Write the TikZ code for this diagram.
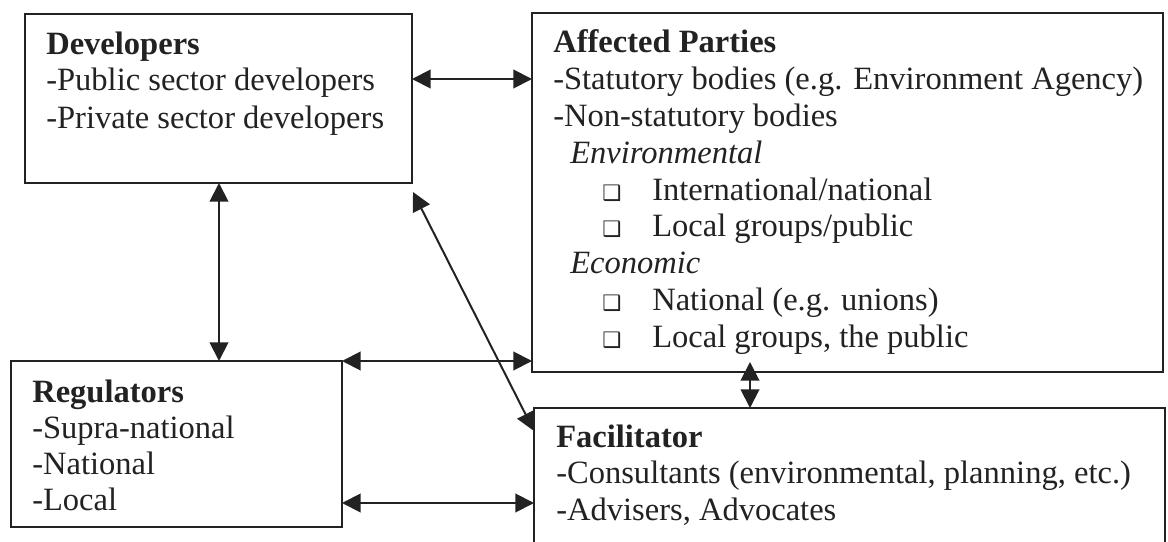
\documentclass[tikz,border=0pt]{standalone}
\usepackage{fontspec}
\setmainfont{Liberation Serif}
\newfontfamily\symfont{DejaVu Sans}
\usetikzlibrary{arrows.meta,fit}
\definecolor{ink}{HTML}{222222}
\begin{document}
\begin{tikzpicture}[x=0.75pt,y=-0.75pt,
  box/.style={draw=ink, line width=1.8pt, inner sep=0pt, outer sep=0pt, rectangle},
  txt/.style={anchor=base west, inner sep=0pt, text=ink, font=\fontsize{24.4}{30}\selectfont},
  bul/.style={anchor=base west, inner sep=0pt, text=ink, font=\symfont\fontsize{16}{18}\selectfont},
  link/.style={draw=ink, line width=1.5pt, {Triangle[length=14pt,width=14pt]}-{Triangle[length=14pt,width=14pt]}}
]
\useasboundingbox (0,0) rectangle (1168,542);
\clip (0,0) rectangle (1168,542);

% the four stakeholder boxes
\node[box, fit={(25,14) (412,183)}] (dev) {};
\node[box, fit={(532,13) (1163,372)}] (aff) {};
\node[box, fit={(11,361) (342,527)}] (reg) {};
\node[box, fit={(534,408) (1165,600)}] (fac) {};

% Developers
\node[txt] (devT) at (46,55) {\textbf{Developers}};
\node[txt] (dev1) at (46,91) {-Public sector developers};
\node[txt] (dev2) at (46,128) {-Private sector developers};

% Affected parties
\node[txt] (affT) at (553,53) {\textbf{Affected Parties}};
\node[txt] (aff1) at (553,89.75) {-Statutory bodies (e.g. Environment Agency)};
\node[txt] (aff2) at (553,126.5) {-Non-statutory bodies};
\node[txt] (aff3) at (570,163.25) {\itshape Environmental};
\node[bul] (b1) at (602,200) {❑};
\node[txt] (aff4) at (652,200) {International/national};
\node[bul] (b2) at (602,236.75) {❑};
\node[txt] (aff5) at (652,236.75) {Local groups/public};
\node[txt] (aff6) at (570,273.5) {\itshape Economic};
\node[bul] (b3) at (602,310.25) {❑};
\node[txt] (aff7) at (652,310.25) {National (e.g. unions)};
\node[bul] (b4) at (602,347) {❑};
\node[txt] (aff8) at (652,347) {Local groups, the public};

% Regulators
\node[txt] (regT) at (32,402) {\textbf{Regulators}};
\node[txt] (reg1) at (32,438) {-Supra-national};
\node[txt] (reg2) at (32,474) {-National};
\node[txt] (reg3) at (32,510) {-Local};

% Facilitator
\node[txt] (facT) at (556,447) {\textbf{Facilitator}};
\node[txt] (fac1) at (556,483) {-Consultants (environmental, planning, etc.)};
\node[txt] (fac2) at (556,520) {-Advisers, Advocates};

% guide coordinates for the connectors
\coordinate (yDA) at (0,79);
\coordinate (xDR) at (219,0);
\coordinate (yRF) at (0,503);
\coordinate (xAF) at (750,0);
\coordinate (dfA) at (413,192);
\coordinate (yDF) at (0,431);

% two-way links
\draw[link] (dev.east |- yDA) -- (aff.west |- yDA);
\draw[link] (dev.south -| xDR) -- (reg.north -| xDR);
\draw[link] (reg.north east) -- (aff.west |- reg.north east);
\draw[link] (reg.east |- yRF) -- (fac.west |- yRF);
\draw[link, shorten <=-7.5pt] (aff.south -| xAF) -- (fac.north -| xAF);
\draw[link] (dfA) -- (fac.west |- yDF);
\end{tikzpicture}
\end{document}
